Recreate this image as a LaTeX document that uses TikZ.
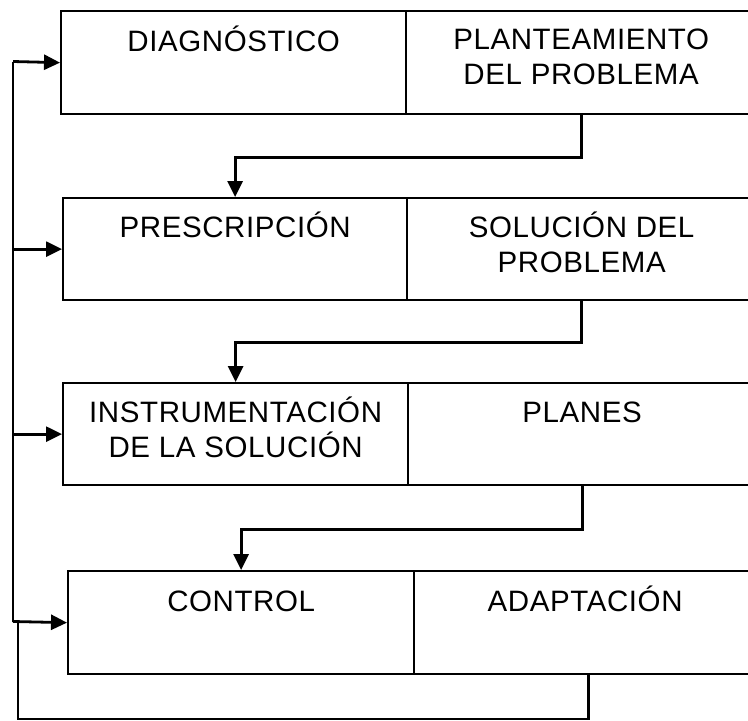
\documentclass[tikz,border=0pt]{standalone}
\usepackage{fontspec}
\setmainfont[LetterSpace=2]{Liberation Sans}
\usetikzlibrary{arrows.meta}
\begin{document}
\begin{tikzpicture}[x=1pt,y=-1pt,
  box/.style={draw, line width=2.3pt, inner sep=0pt, anchor=north west},
  txt/.style={anchor=base, inner sep=0pt, font=\fontsize{29.5}{35}\selectfont},
  conn/.style={line width=2.8pt},
  arr/.style={conn, -{Triangle[length=16pt,width=15pt]}}]
\useasboundingbox (0,0) rectangle (748,721);
% row 1
\node[box, minimum width=345pt, minimum height=103pt] (d1) at (60,10) {};
\node[box, minimum width=350pt, minimum height=103pt] (r1) at (405,10) {};
% row 2
\node[box, minimum width=344pt, minimum height=102pt] (d2) at (62,197) {};
\node[box, minimum width=349pt, minimum height=102pt] (r2) at (406,197) {};
% row 3
\node[box, minimum width=345pt, minimum height=102pt] (d3) at (62,382) {};
\node[box, minimum width=348pt, minimum height=102pt] (r3) at (407,382) {};
% row 4
\node[box, minimum width=346pt, minimum height=103pt] (d4) at (67,570) {};
\node[box, minimum width=342pt, minimum height=103pt] (r4) at (413,570) {};
% texts
\node[txt] (t1) at ([yshift=-41pt]d1.north) {DIAGNÓSTICO};
\node[txt] (t2) at ([yshift=-39pt]r1.north) {PLANTEAMIENTO};
\node[txt] (t3) at ([yshift=-74pt]r1.north) {DEL PROBLEMA};
\node[txt] (t4) at ([yshift=-40pt]d2.north) {PRESCRIPCIÓN};
\node[txt] (t5) at ([yshift=-40pt]r2.north) {SOLUCIÓN DEL};
\node[txt] (t6) at ([yshift=-75pt]r2.north) {PROBLEMA};
\node[txt] (t7) at ([yshift=-40pt]d3.north) {INSTRUMENTACIÓN};
\node[txt] (t8) at ([yshift=-75pt]d3.north) {DE LA SOLUCIÓN};
\node[txt] (t9) at ([yshift=-40pt]r3.north) {PLANES};
\node[txt] (t10) at ([yshift=-41pt]d4.north) {CONTROL};
\node[txt] (t11) at ([yshift=-41pt]r4.north) {ADAPTACIÓN};
% down connectors
\draw[arr] (r1.south) -- ++(0,42) -| (d2.north);
\draw[arr] (r2.south) -- ++(0,41) -| (d3.north);
\draw[arr] (r3.south) -- ++(0,43) -| (d4.north);
% feedback bus
\coordinate (b1) at (13,61.5);
\coordinate (b4) at (13,621.5);
\draw[conn] (b1) -- (b4);
\draw[arr] (b1) -- (d1.west);
\draw[arr] (d2.west -| b1) -- (d2.west);
\draw[arr] (d3.west -| b1) -- (d3.west);
\draw[arr] (b4) -- (d4.west);
% return loop
\coordinate (lp) at (18,719);
\draw[conn] ([xshift=3pt]r4.south) |- (lp) -- (lp |- d4.west);
\end{tikzpicture}
\end{document}
